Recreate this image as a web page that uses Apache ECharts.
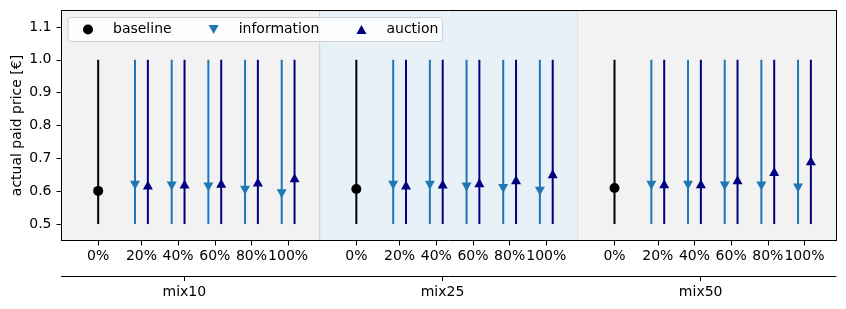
<!DOCTYPE html>
<html><head><meta charset="utf-8">
<script src="https://cdn.jsdelivr.net/npm/echarts@6/dist/echarts.min.js"></script>
<style>html,body{margin:0;padding:0;background:#fff}#c{width:846px;height:309px}</style>
</head><body><div id="c"></div>
<script>
// ---- data ----
const groups = ['mix10', 'mix25', 'mix50'];
const levels = ['0%', '20%', '40%', '60%', '80%', '100%'];
const baseline = [0.601, 0.607, 0.610];
const information = [
  [0.618, 0.616, 0.613, 0.603, 0.592],
  [0.618, 0.618, 0.613, 0.608, 0.600],
  [0.618, 0.618, 0.616, 0.616, 0.610]
];
const auction = [
  [0.619, 0.622, 0.624, 0.628, 0.641],
  [0.619, 0.622, 0.626, 0.635, 0.653],
  [0.623, 0.623, 0.635, 0.660, 0.693]
];
const rangeLow = 0.5, rangeHigh = 1.0;
const yTicks = [0.5, 0.6, 0.7, 0.8, 0.9, 1.0, 1.1];

// ---- layout ----
const GROUP_SPAN = 7.04;
const LEVEL_POS = [0, 1.18, 2.18, 3.18, 4.18, 5.18];
const PAIR_OFF = 0.175;
const GROUP_TICK = 2.35;
const X_MIN = -1, X_MAX = -1 + 3 * GROUP_SPAN;
const C_BASE = '#000000', C_INFO = '#1f77b4', C_AUC = '#000080';
const FONT = 'DejaVu Sans';
const FS = 14;

const levelTicks = [], levelLabelOf = {};
groups.forEach((g, gi) => LEVEL_POS.forEach((p, li) => {
  const v = +(gi * GROUP_SPAN + p).toFixed(4);
  levelTicks.push(v); levelLabelOf[v] = levels[li];
}));
const groupTicks = groups.map((g, gi) => +(gi * GROUP_SPAN + GROUP_TICK).toFixed(4));
function nearestLabel(v, ticks, labels) {
  let best = 0; ticks.forEach((t, i) => { if (Math.abs(t - v) < Math.abs(ticks[best] - v)) best = i; });
  return labels[best];
}

const baseData = [], infoData = [], aucData = [], lineData = [];
groups.forEach((g, gi) => {
  const x0 = gi * GROUP_SPAN + LEVEL_POS[0];
  baseData.push([x0, baseline[gi]]);
  lineData.push([x0, rangeLow, rangeHigh, 0]);
  for (let k = 0; k < 5; k++) {
    const xc = gi * GROUP_SPAN + LEVEL_POS[k + 1];
    infoData.push([xc - PAIR_OFF, information[gi][k]]);
    aucData.push([xc + PAIR_OFF, auction[gi][k]]);
    lineData.push([xc - PAIR_OFF, rangeLow, rangeHigh, 1]);
    lineData.push([xc + PAIR_OFF, rangeLow, rangeHigh, 2]);
  }
});
const lineColors = [C_BASE, C_INFO, C_AUC];

const panelEdges = [0, 1, 2, 3].map(i => X_MIN + i * GROUP_SPAN);
const panelColors = ['#f2f2f2', '#e8f0f8', '#f2f2f2'];

const chart = echarts.init(document.getElementById('c'), null, {renderer: 'canvas'});
const axisCommon = {lineStyle: {color: '#000', width: 1}};
chart.setOption({
  animation: false,
  textStyle: {fontFamily: FONT},
  grid: {left: 61.5, right: 10, top: 10.5, bottom: 68.5, outerBoundsMode: 'none', containLabel: false},
  legend: {
    data: [
      {name: 'baseline', icon: 'circle'},
      {name: 'information', icon: 'path://M0,0L10,0L5,9Z'},
      {name: 'auction', icon: 'path://M5,0L10,9L0,9Z'}
    ],
    left: 68, top: 17.5, itemWidth: 10, itemHeight: 10, itemGap: 37,
    padding: [5, 4, 5, 15],
    backgroundColor: 'rgba(255,255,255,0.8)', borderColor: '#d0d0d0', borderWidth: 1, borderRadius: 3,
    textStyle: {fontSize: FS, color: '#000', fontFamily: FONT, padding: [0, 0, 0, 15]}, z: 20
  },
  xAxis: [
    {type: 'value', min: X_MIN, max: X_MAX, z: 10, splitLine: {show: false},
     axisLine: {show: true, onZero: false, ...axisCommon},
     axisTick: {show: true, customValues: levelTicks, length: 5, lineStyle: {color: '#000'}},
     axisLabel: {customValues: levelTicks, fontSize: FS, color: '#000', margin: 9, fontFamily: FONT,
                 formatter: v => nearestLabel(v, levelTicks, levelTicks.map(t => levelLabelOf[t]))}},
    {type: 'value', min: X_MIN, max: X_MAX, position: 'bottom', offset: 35.5, z: 10, splitLine: {show: false},
     axisLine: {show: true, onZero: false, ...axisCommon},
     axisTick: {show: true, customValues: groupTicks, length: 5, lineStyle: {color: '#000'}},
     axisLabel: {customValues: groupTicks, fontSize: FS, color: '#000', margin: 9, fontFamily: FONT,
                 formatter: v => nearestLabel(v, groupTicks, groups)}},
    {type: 'value', min: X_MIN, max: X_MAX, position: 'top', z: 10, splitLine: {show: false},
     axisLine: {show: true, onZero: false, ...axisCommon}, axisTick: {show: false}, axisLabel: {show: false}}
  ],
  yAxis: [
    {type: 'value', min: 0.45, max: 1.15, z: 10, splitLine: {show: false},
     axisLine: {show: true, onZero: false, ...axisCommon},
     axisTick: {show: true, customValues: yTicks, length: 5, lineStyle: {color: '#000'}},
     axisLabel: {customValues: yTicks, fontSize: FS, color: '#000', margin: 10, fontFamily: FONT,
                 formatter: v => v.toFixed(1)},
     name: 'actual paid price [€]', nameLocation: 'middle', nameGap: 37, nameMoveOverlap: false,
     nameTextStyle: {fontSize: FS, color: '#000', fontFamily: FONT}},
    {type: 'value', min: 0.45, max: 1.15, position: 'right', z: 10, splitLine: {show: false},
     axisLine: {show: true, onZero: false, ...axisCommon}, axisTick: {show: false}, axisLabel: {show: false}}
  ],
  series: [
    {type: 'custom', name: 'ranges', silent: true, z: 2,
     data: lineData,
     encode: {x: 0, y: [1, 2]},
     renderItem: (params, api) => {
       const x = api.value(0);
       const p1 = api.coord([x, api.value(1)]);
       const p2 = api.coord([x, api.value(2)]);
       return {type: 'line', shape: {x1: p1[0], y1: p1[1], x2: p2[0], y2: p2[1]},
               style: {stroke: lineColors[api.value(3)], lineWidth: 2}};
     },
     markArea: {silent: true, z: 1, data: groups.map((g, i) => [
       {xAxis: panelEdges[i], itemStyle: {color: panelColors[i],
         borderColor: i === 1 ? 'rgba(190,210,228,0.9)' : 'transparent', borderWidth: i === 1 ? 1 : 0}},
       {xAxis: panelEdges[i + 1]}
     ])}
    },
    {type: 'scatter', name: 'baseline', data: baseData, symbol: 'circle', symbolSize: 10, z: 5,
     itemStyle: {color: C_BASE, opacity: 1}},
    {type: 'scatter', name: 'information', data: infoData, symbol: 'triangle', symbolRotate: 180,
     symbolSize: [10, 9], z: 5, itemStyle: {color: C_INFO, opacity: 1}},
    {type: 'scatter', name: 'auction', data: aucData, symbol: 'triangle',
     symbolSize: [10, 9], z: 5, itemStyle: {color: C_AUC, opacity: 1}}
  ]
});
</script></body></html>
